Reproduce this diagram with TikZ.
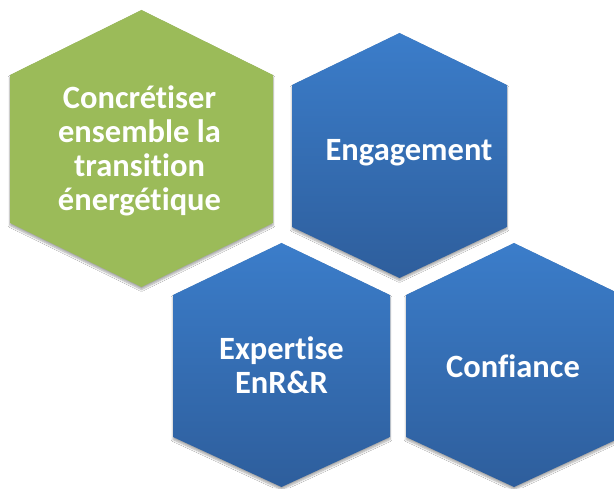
\documentclass[tikz,border=0pt]{standalone}
\usepackage{fontspec}
\setmainfont{Carlito}[Ligatures=NoCommon]
\usetikzlibrary{shadows.blur}
\definecolor{hexgreen}{HTML}{9BBB59}
\definecolor{bluetop}{HTML}{3B7DCA}
\definecolor{bluebot}{HTML}{2E5E9C}
\tikzset{
  hexbase/.style={blur shadow={shadow xshift=0pt, shadow yshift=-2.5pt, shadow blur steps=6, shadow opacity=35}},
  greenhex/.style={hexbase, fill=hexgreen},
  bluehex/.style={hexbase, top color=bluetop, bottom color=bluebot},
  label/.style={text=white, font=\fontsize{32.5}{34}\selectfont\bfseries, align=center, inner sep=0pt}
}
% hexagon: cx, L, R, top, upper shoulder, lower shoulder, bottom (pixel coords, y down)
\newcommand{\hexpath}[7]{(#2,488-#5) -- (#1,488-#4) -- (#3,488-#5) -- (#3,488-#6) -- (#1,488-#7) -- (#2,488-#6) -- cycle}
\begin{document}
\begin{tikzpicture}[x=1pt,y=1pt]
\useasboundingbox (0,0) rectangle (614,488);
\clip (0,0) rectangle (614,488);
\fill[white] (0,0) rectangle (614,488);
\path[greenhex] \hexpath{141.5}{10}{273}{10}{75}{223}{287};
\path[bluehex] \hexpath{399.5}{292}{507}{33}{85}{227}{278};
\path[bluehex] \hexpath{281.5}{173}{390}{243}{295}{437}{487};
\path[bluehex] \hexpath{514}{406}{622}{243}{295}{437}{487};
\node[label] (green) at (139.5,488-151) {Concrétiser\\ensemble la\\transition\\énergétique};
\node[label] (eng) at (409,488-153) {Engagement};
\node[label] (exp) at (281.5,488-365) {Expertise\\EnR\&R};
\node[label] (conf) at (513,488-366) {Confiance};
\end{tikzpicture}
\end{document}
